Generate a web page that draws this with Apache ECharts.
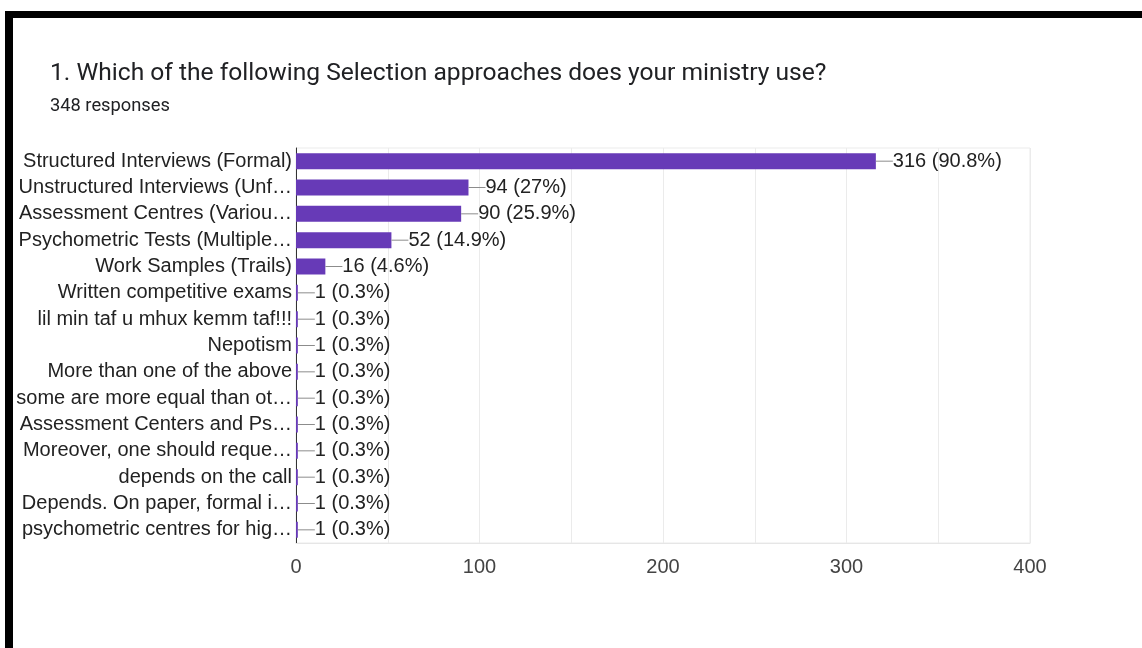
<!DOCTYPE html>
<html>
<head>
<meta charset="utf-8">
<style>
  html, body { margin: 0; padding: 0; background: #fff; }
  #chart { width: 1142px; height: 648px; }
</style>
<script src="https://cdn.jsdelivr.net/npm/echarts@6/dist/echarts.min.js"></script>
</head>
<body>
<div id="chart"></div>
<script>
// Survey question: which selection approaches are used (348 responses)
const totalResponses = 348;
const categories = [
  'Structured Interviews (Formal)',
  'Unstructured Interviews (Unf\u2026',
  'Assessment Centres (Variou\u2026',
  'Psychometric Tests (Multiple\u2026',
  'Work Samples (Trails)',
  'Written competitive exams',
  'lil min taf u mhux kemm taf!!!',
  'Nepotism',
  'More than one of the above',
  'some are more equal than ot\u2026',
  'Assessment Centers and Ps\u2026',
  'Moreover, one should reque\u2026',
  'depends on the call',
  'Depends. On paper, formal i\u2026',
  'psychometric centres for hig\u2026'
];
const counts = [316, 94, 90, 52, 16, 1, 1, 1, 1, 1, 1, 1, 1, 1, 1];
const percents = ['90.8', '27', '25.9', '14.9', '4.6', '0.3', '0.3', '0.3', '0.3', '0.3', '0.3', '0.3', '0.3', '0.3', '0.3'];
const xTicks = [0, 100, 200, 300, 400];

const chart = echarts.init(document.getElementById('chart'), null, { renderer: 'canvas' });

const labelFont = '"Liberation Sans", Arial, sans-serif';

chart.setOption({
  backgroundColor: '#fff',
  animation: false,
  title: {
    text: '1. Which of the following Selection approaches does your ministry use?',
    subtext: totalResponses + ' responses',
    left: 50,
    top: 61,
    padding: 0,
    itemGap: 11,
    textStyle: { fontFamily: 'Roboto', fontSize: 24.6, fontWeight: 'normal', color: '#202124' },
    subtextStyle: { fontFamily: 'Roboto', fontSize: 18.3, color: '#202124' }
  },
  grid: {
    left: 296, right: 112, top: 148, bottom: 105,
    show: true, borderColor: '#ebebeb', borderWidth: 1
  },
  xAxis: {
    type: 'value',
    min: 0, max: 400, interval: 50,
    axisLine: { show: true, lineStyle: { color: '#e6e6e6' } },
    axisTick: { show: false },
    splitLine: { show: true, lineStyle: { color: '#ebebeb', width: 1 } },
    axisLabel: {
      margin: 14,
      fontFamily: labelFont, fontSize: 20, color: '#444',
      formatter: v => (xTicks.indexOf(v) >= 0 ? String(v) : '')
    }
  },
  yAxis: {
    type: 'category',
    inverse: true,
    data: categories,
    axisLine: { show: true, lineStyle: { color: '#333', width: 1 } },
    axisTick: { show: false },
    axisLabel: { margin: 4, fontFamily: labelFont, fontSize: 20, color: '#222' }
  },
  series: [{
    type: 'bar',
    data: counts,
    barWidth: 16,
    itemStyle: { color: '#673ab7' },
    label: {
      show: true,
      position: 'right',
      distance: 0,
      formatter: p => '{ln|}{v|' + counts[p.dataIndex] + ' (' + percents[p.dataIndex] + '%)}',
      rich: {
        ln: { width: 17, height: 1, backgroundColor: '#8c8c8c', verticalAlign: 'middle' },
        v: { fontFamily: labelFont, fontSize: 20, color: '#222', padding: [0, 0, 0, 0] }
      }
    }
  }],
  graphic: [
    { type: 'rect', shape: { x: 5, y: 11, width: 1137, height: 7 }, style: { fill: '#000' } },
    { type: 'rect', shape: { x: 5, y: 11, width: 8, height: 637 }, style: { fill: '#000' } }
  ]
});
</script>
</body>
</html>
